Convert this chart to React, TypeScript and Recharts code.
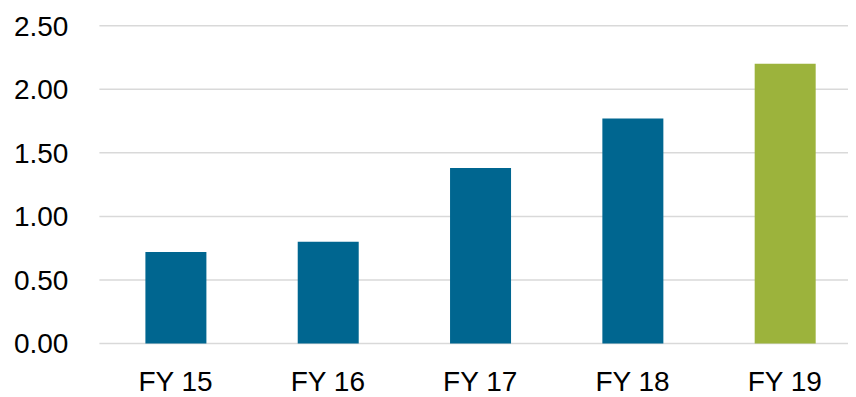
import React from 'react';
import { BarChart, Bar, XAxis, YAxis, CartesianGrid, Cell } from 'recharts';

const categories = ['FY 15', 'FY 16', 'FY 17', 'FY 18', 'FY 19'];
const values = [0.72, 0.8, 1.38, 1.77, 2.2];
const yTicks = [0, 0.5, 1, 1.5, 2, 2.5];

const BLUE = '#006690';
const GREEN = '#9cb33c';

const data = categories.map((name, i) => ({ name, value: values[i] }));

const tickStyle = { fontSize: 28, fill: '#000', fontFamily: '"Liberation Sans", Arial, sans-serif' };

export default function App() {
  return (
    // chart plot runs a little past the right edge in the original, so clip it
    <div style={{ width: 848, height: 389, overflow: 'hidden' }}>
      <BarChart
        width={853}
        height={389}
        data={data}
        margin={{ top: 17.7, right: 0, bottom: 0, left: 0 }}
        barSize={61}
      >
        <CartesianGrid vertical={false} stroke="#d9d9d9" strokeWidth={1.5} />
        <XAxis
          dataKey="name"
          height={53.5}
          axisLine={false}
          tickLine={false}
          tickMargin={22}
          tick={tickStyle}
        />
        <YAxis
          width={91.4}
          domain={[0, 2.5]}
          ticks={yTicks}
          interval={0}
          axisLine={false}
          tickLine={false}
          tickMargin={25}
          tick={tickStyle}
          tickFormatter={(v: number) => v.toFixed(2)}
        />
        <Bar dataKey="value" isAnimationActive={false}>
          {data.map((d, i) => (
            <Cell key={d.name} fill={i === data.length - 1 ? GREEN : BLUE} />
          ))}
        </Bar>
      </BarChart>
    </div>
  );
}
